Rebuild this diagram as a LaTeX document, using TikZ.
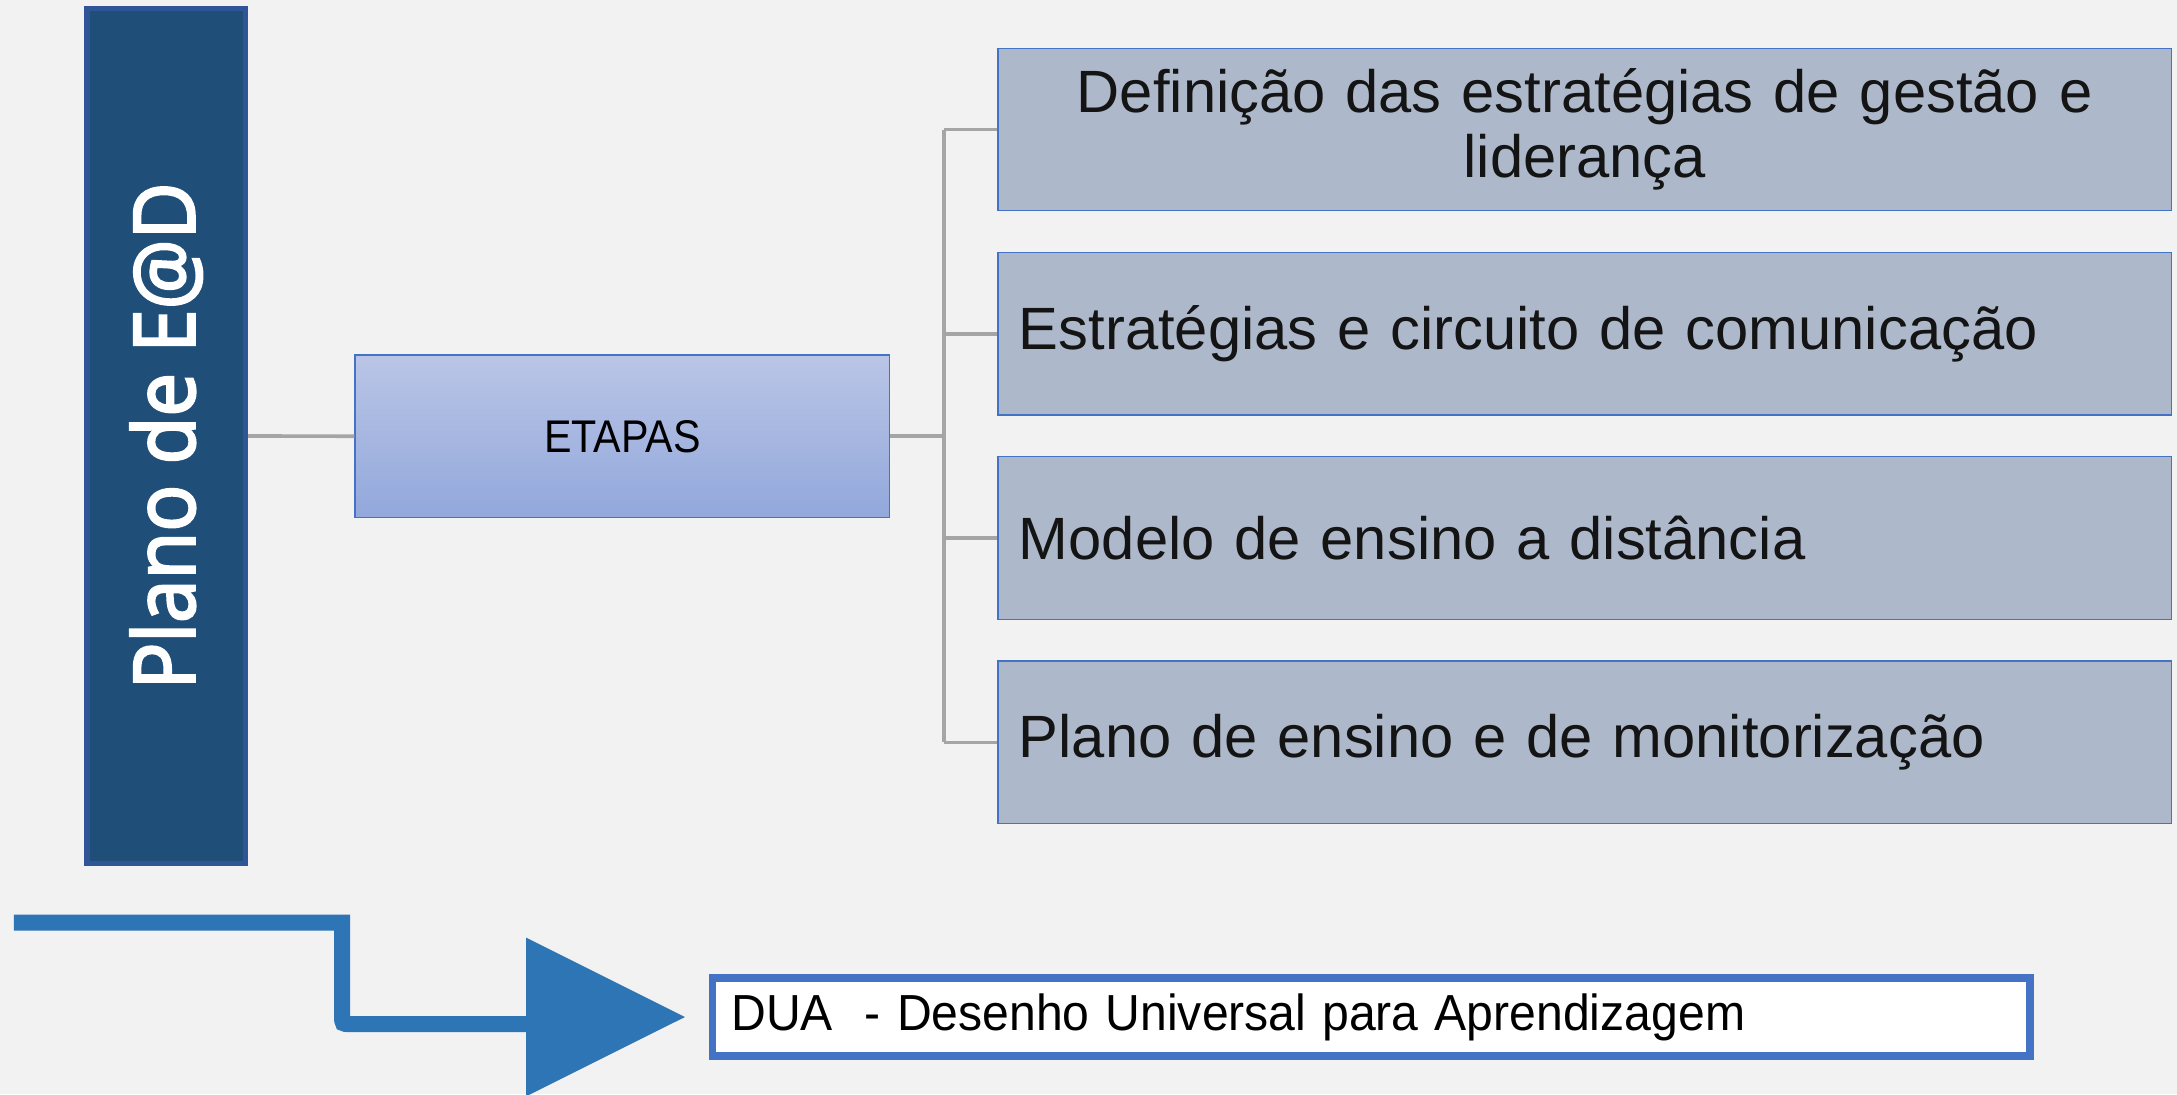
\documentclass[tikz,border=0pt]{standalone}
\usepackage{fontspec}
\setmainfont{Liberation Sans}
\newfontfamily\platfont[FakeBold=3]{Open Sans}
\definecolor{bgc}{HTML}{F2F2F2}
\definecolor{planfill}{HTML}{1F4E79}
\definecolor{planborder}{HTML}{2F5597}
\definecolor{ettop}{HTML}{BAC5E6}
\definecolor{etbot}{HTML}{92A8DB}
\definecolor{rfill}{HTML}{ADB9CA}
\definecolor{bborder}{HTML}{4472C4}
\definecolor{conncol}{HTML}{A5A5A5}
\definecolor{arrowcol}{HTML}{2E75B6}
\definecolor{txt}{HTML}{141414}
\begin{document}
\begin{tikzpicture}[x=1pt,y=-1pt,
  planbox/.style={draw=planborder, line width=4pt, fill=planfill, minimum width=616pt, minimum height=114pt, inner sep=0pt, text=white},
  etbox/.style={draw=bborder, line width=1pt, top color=ettop, bottom color=etbot, minimum width=385pt, minimum height=117pt, inner sep=0pt, font=\fontsize{33}{36}\selectfont},
  rbox/.style={draw=bborder, line width=1pt, fill=rfill, minimum height=117pt, text width=815pt, inner xsep=15pt, inner ysep=0pt, text=txt, font=\fontsize{43}{47}\selectfont},
  duabox/.style={draw=bborder, line width=5.3pt, fill=white, minimum height=56pt, text width=921.6pt, inner xsep=13.7pt, inner ysep=0pt, align=left, font=\fontsize{36.5}{40}\selectfont},
  conn/.style={draw=conncol, line width=2.6pt},
  arrowline/.style={draw=arrowcol, line width=11.5pt},
  arrowhead/.style={fill=arrowcol}
]
\useasboundingbox[fill=bgc] (0,0) rectangle (1568,788);

\node[planbox, rotate=90] (plan) at (119.7,314) {\platfont\fontsize{61}{64}\selectfont\scalebox{0.92}[1]{Plano de E@D}};

\node[etbox] (etapas) at (448.3,314.2) {\scalebox{0.9}[1]{ETAPAS}};

\node[rbox, align=center] (b1) at (1141.35,93.3) {Definição das estratégias de gestão e\\liderança};
\node[rbox, align=left] (b2) at (1141.35,240.5) {Estratégias e circuito de comunicação};
\node[rbox, align=left] (b3) at (1141.35,387.5) {Modelo de ensino a distância};
\node[rbox, align=left] (b4) at (1141.35,534.7) {Plano de ensino e de monitorização};

\node[duabox] (dua) at (987.5,732.5) {\scalebox{0.95}[1]{DUA\ \ - Desenho Universal para Aprendizagem}};

\coordinate (j) at (680,314.2);
\draw[conn] (plan.south) -- (etapas.west);
\draw[conn] (etapas.east) -- (j);
\draw[conn] (j |- b1.west) -- (j |- b4.west);
\draw[conn] (j |- b1.west) -- (b1.west);
\draw[conn] (j |- b2.west) -- (b2.west);
\draw[conn] (j |- b3.west) -- (b3.west);
\draw[conn] (j |- b4.west) -- (b4.west);

\coordinate (a0) at (10,664.5);
\coordinate (a1) at (246.4,664.5);
\coordinate (c) at (246.4,737.6);
\coordinate (abase) at (380,737.6);
\coordinate (tip) at ([xshift=-17pt]dua.west);
\draw[arrowline] (a0) -- (a1) -- ([yshift=5.75pt]c) .. controls (c) .. ([xshift=5.75pt]c) -- (abase);
\fill[arrowhead] (tip) -- ([xshift=-114.5pt,yshift=57.2pt]tip) -- ([xshift=-114.5pt,yshift=-57.2pt]tip) -- cycle;
\end{tikzpicture}
\end{document}
